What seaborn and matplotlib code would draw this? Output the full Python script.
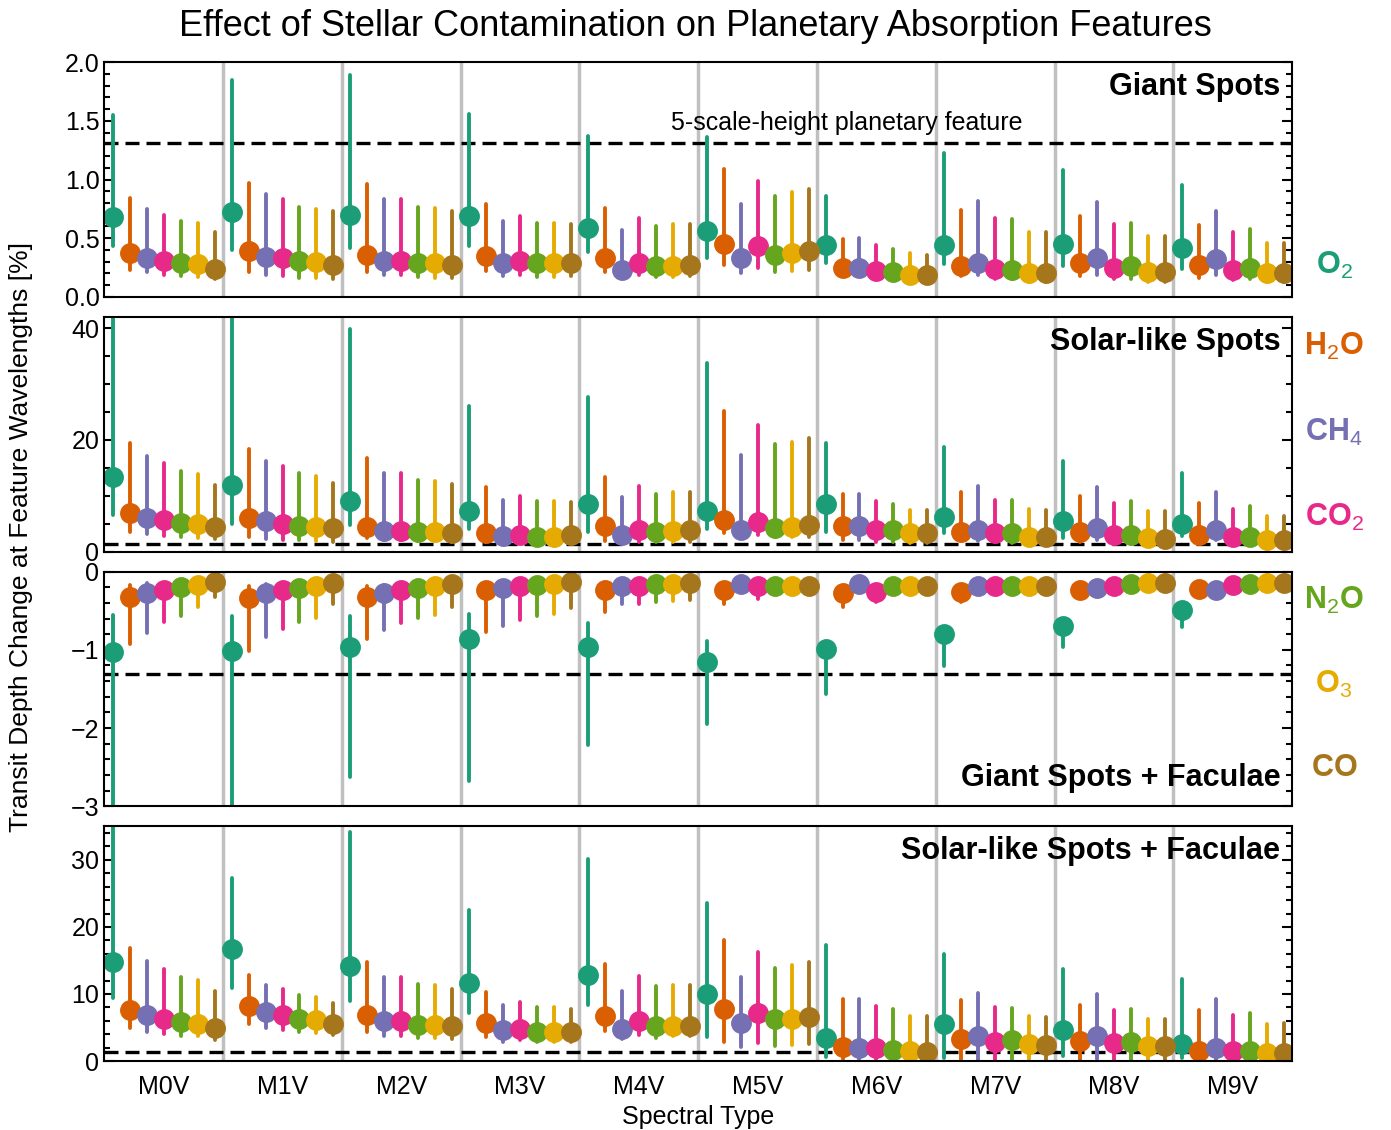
import numpy as np
import pandas as pd
import matplotlib
matplotlib.use("Agg")
import matplotlib.pyplot as plt
from matplotlib.ticker import AutoMinorLocator
import seaborn as sns

# Spectral types and molecules
spectral_types = ['M0V', 'M1V', 'M2V', 'M3V', 'M4V', 'M5V', 'M6V', 'M7V', 'M8V', 'M9V']
molecules = ['O2', 'H2O', 'CH4', 'CO2', 'N2O', 'O3', 'CO']
molecule_labels = [r'$\mathbf{O}_\mathrm{2}$', r'$\mathbf{H}_\mathrm{2}\mathbf{O}$',
                   r'$\mathbf{CH}_\mathrm{4}$', r'$\mathbf{CO}_\mathrm{2}$',
                   r'$\mathbf{N}_\mathrm{2}\mathbf{O}$', r'$\mathbf{O}_\mathrm{3}$',
                   r'$\mathbf{CO}$']
colors = ['#1b9e77', '#d95f02', '#7570b3', '#e7298a', '#66a61e', '#e6ab02', '#a6761d']

panel_titles = ['Giant Spots', 'Solar-like Spots', 'Giant Spots + Faculae', 'Solar-like Spots + Faculae']
feature_depth = 1.31  # 5 scale heights

# --- Giant Spots (rows: spectral type, columns: molecule) ---
giant_mid = [
    [0.68, 0.37, 0.33, 0.31, 0.29, 0.28, 0.24],
    [0.72, 0.39, 0.34, 0.33, 0.31, 0.30, 0.27],
    [0.70, 0.36, 0.31, 0.31, 0.29, 0.29, 0.27],
    [0.69, 0.35, 0.29, 0.31, 0.29, 0.29, 0.29],
    [0.59, 0.33, 0.23, 0.29, 0.26, 0.26, 0.27],
    [0.56, 0.45, 0.33, 0.43, 0.36, 0.37, 0.39],
    [0.44, 0.25, 0.25, 0.22, 0.21, 0.19, 0.19],
    [0.44, 0.26, 0.29, 0.24, 0.23, 0.20, 0.20],
    [0.45, 0.29, 0.33, 0.25, 0.26, 0.21, 0.21],
    [0.42, 0.27, 0.32, 0.23, 0.25, 0.20, 0.20],
]
giant_lo = [
    [0.43, 0.23, 0.21, 0.19, 0.18, 0.17, 0.15],
    [0.40, 0.21, 0.19, 0.18, 0.16, 0.16, 0.15],
    [0.42, 0.21, 0.19, 0.19, 0.17, 0.16, 0.16],
    [0.43, 0.22, 0.18, 0.19, 0.17, 0.17, 0.18],
    [0.38, 0.21, 0.16, 0.19, 0.17, 0.17, 0.18],
    [0.33, 0.27, 0.20, 0.25, 0.21, 0.22, 0.23],
    [0.29, 0.18, 0.18, 0.15, 0.14, 0.12, 0.12],
    [0.28, 0.18, 0.19, 0.15, 0.15, 0.13, 0.13],
    [0.26, 0.18, 0.19, 0.15, 0.15, 0.13, 0.13],
    [0.24, 0.16, 0.19, 0.14, 0.15, 0.13, 0.13],
]
giant_hi = [
    [1.55, 0.84, 0.75, 0.70, 0.65, 0.63, 0.55],
    [1.85, 0.97, 0.88, 0.83, 0.77, 0.75, 0.73],
    [1.89, 0.96, 0.83, 0.83, 0.77, 0.76, 0.73],
    [1.56, 0.79, 0.65, 0.69, 0.63, 0.63, 0.62],
    [1.37, 0.76, 0.57, 0.67, 0.60, 0.62, 0.62],
    [1.36, 1.09, 0.79, 0.99, 0.86, 0.89, 0.92],
    [0.86, 0.49, 0.50, 0.44, 0.41, 0.37, 0.36],
    [1.23, 0.74, 0.82, 0.67, 0.66, 0.55, 0.55],
    [1.08, 0.69, 0.81, 0.62, 0.63, 0.52, 0.52],
    [0.95, 0.61, 0.73, 0.55, 0.58, 0.46, 0.46],
]

# --- Solar-like Spots ---
solar_mid = [
    [13.4, 6.9, 6.1, 5.7, 5.2, 5.0, 4.4],
    [11.9, 6.0, 5.4, 5.0, 4.6, 4.4, 4.2],
    [9.0, 4.4, 3.7, 3.7, 3.5, 3.5, 3.4],
    [7.2, 3.4, 2.8, 3.0, 2.7, 2.7, 2.9],
    [8.5, 4.5, 3.0, 3.9, 3.6, 3.7, 3.8],
    [7.2, 5.6, 3.9, 5.3, 4.3, 4.4, 4.7],
    [8.5, 4.5, 4.5, 3.9, 3.8, 3.3, 3.3],
    [6.2, 3.5, 3.9, 3.3, 3.3, 2.7, 2.6],
    [5.4, 3.5, 4.2, 3.0, 3.0, 2.4, 2.3],
    [5.0, 3.0, 3.9, 2.6, 2.7, 2.1, 2.1],
]
solar_lo = [
    [6.6, 3.5, 3.1, 2.8, 2.6, 2.5, 2.2],
    [5.0, 2.6, 2.2, 2.1, 2.0, 1.9, 1.8],
    [4.8, 2.4, 2.1, 2.1, 1.9, 1.9, 1.8],
    [4.0, 1.8, 1.5, 1.6, 1.4, 1.4, 1.5],
    [3.6, 1.9, 1.8, 1.8, 1.8, 1.8, 1.8],
    [4.1, 3.3, 2.4, 3.0, 2.6, 2.6, 2.7],
    [3.6, 2.0, 2.0, 1.8, 1.7, 1.5, 1.5],
    [3.3, 1.9, 1.9, 1.7, 1.5, 1.2, 1.2],
    [2.4, 1.8, 2.1, 1.4, 1.4, 1.1, 1.1],
    [2.8, 1.5, 2.1, 1.2, 1.2, 0.9, 0.9],
]
solar_hi = [
    [48.0, 19.4, 17.1, 15.8, 14.4, 13.8, 12.0],
    [45.0, 18.4, 16.2, 15.3, 14.0, 13.5, 12.2],
    [39.8, 16.8, 14.1, 14.1, 12.9, 12.7, 12.1],
    [26.0, 11.6, 9.3, 9.9, 9.0, 9.0, 8.8],
    [27.7, 13.4, 9.7, 11.7, 10.3, 10.6, 10.6],
    [33.8, 25.2, 17.3, 22.6, 19.2, 19.6, 20.4],
    [19.5, 10.4, 10.4, 9.1, 8.5, 7.4, 7.4],
    [18.8, 10.6, 11.8, 9.3, 9.2, 7.6, 7.5],
    [16.2, 9.9, 11.6, 8.7, 9.0, 7.2, 7.2],
    [14.1, 8.7, 10.6, 7.7, 8.1, 6.3, 6.4],
]

# --- Giant Spots + Faculae ---
giantfac_mid = [
    [-1.03, -0.32, -0.28, -0.23, -0.20, -0.17, -0.13],
    [-1.02, -0.34, -0.27, -0.24, -0.21, -0.19, -0.14],
    [-0.97, -0.32, -0.27, -0.24, -0.21, -0.19, -0.16],
    [-0.86, -0.24, -0.21, -0.19, -0.17, -0.16, -0.13],
    [-0.97, -0.23, -0.18, -0.18, -0.16, -0.16, -0.14],
    [-1.16, -0.24, -0.16, -0.19, -0.18, -0.18, -0.18],
    [-0.99, -0.27, -0.16, -0.26, -0.19, -0.19, -0.19],
    [-0.80, -0.26, -0.18, -0.19, -0.18, -0.18, -0.18],
    [-0.69, -0.24, -0.21, -0.19, -0.16, -0.15, -0.15],
    [-0.49, -0.22, -0.24, -0.17, -0.16, -0.14, -0.14],
]
giantfac_lo = [
    [-3.30, -0.93, -0.79, -0.64, -0.57, -0.45, -0.32],
    [-3.20, -1.01, -0.84, -0.74, -0.65, -0.59, -0.42],
    [-2.63, -0.86, -0.75, -0.66, -0.59, -0.56, -0.45],
    [-2.67, -0.77, -0.69, -0.62, -0.57, -0.54, -0.47],
    [-2.21, -0.52, -0.42, -0.42, -0.39, -0.38, -0.36],
    [-1.95, -0.42, -0.20, -0.35, -0.22, -0.22, -0.22],
    [-1.56, -0.45, -0.20, -0.39, -0.23, -0.23, -0.23],
    [-1.21, -0.39, -0.22, -0.23, -0.22, -0.22, -0.22],
    [-0.96, -0.28, -0.25, -0.23, -0.20, -0.19, -0.19],
    [-0.71, -0.26, -0.28, -0.21, -0.20, -0.18, -0.18],
]
giantfac_hi = [
    [-0.56, -0.17, -0.15, -0.17, -0.16, -0.14, -0.10],
    [-0.57, -0.18, -0.16, -0.18, -0.16, -0.15, -0.10],
    [-0.57, -0.18, -0.17, -0.17, -0.16, -0.15, -0.12],
    [-0.54, -0.18, -0.16, -0.15, -0.14, -0.13, -0.10],
    [-0.66, -0.18, -0.15, -0.15, -0.13, -0.13, -0.11],
    [-0.89, -0.20, -0.13, -0.16, -0.15, -0.15, -0.15],
    [-0.90, -0.22, -0.13, -0.22, -0.16, -0.16, -0.16],
    [-0.75, -0.22, -0.15, -0.16, -0.15, -0.15, -0.15],
    [-0.65, -0.21, -0.18, -0.16, -0.13, -0.12, -0.12],
    [-0.45, -0.19, -0.21, -0.14, -0.13, -0.11, -0.11],
]

# --- Solar-like Spots + Faculae ---
solarfac_mid = [
    [14.8, 7.6, 6.8, 6.3, 5.8, 5.6, 4.9],
    [16.7, 8.2, 7.3, 6.9, 6.3, 6.1, 5.6],
    [14.2, 6.8, 5.9, 5.9, 5.4, 5.4, 5.2],
    [11.7, 5.7, 4.6, 4.8, 4.4, 4.4, 4.4],
    [12.8, 6.7, 4.8, 5.9, 5.2, 5.3, 5.3],
    [10.0, 7.8, 5.7, 7.2, 6.2, 6.3, 6.6],
    [3.5, 2.1, 2.0, 1.9, 1.7, 1.5, 1.4],
    [5.6, 3.3, 3.7, 2.9, 3.1, 2.5, 2.4],
    [4.7, 3.0, 3.7, 2.7, 2.8, 2.3, 2.3],
    [2.5, 1.5, 2.0, 1.5, 1.5, 1.2, 1.2],
]
solarfac_lo = [
    [9.4, 4.9, 4.4, 4.1, 3.8, 3.7, 3.2],
    [10.9, 5.6, 4.9, 4.7, 4.3, 4.2, 3.9],
    [8.9, 4.4, 3.8, 3.8, 3.5, 3.4, 3.3],
    [7.2, 3.6, 2.9, 3.1, 2.8, 2.8, 2.8],
    [8.4, 4.5, 3.3, 3.9, 3.5, 3.7, 3.8],
    [3.6, 2.9, 2.1, 2.7, 2.3, 2.4, 2.5],
    [0.6, 0.3, 0.3, 0.3, 0.3, 0.3, 0.3],
    [0.4, 0.2, 0.2, 0.2, 0.2, 0.2, 0.2],
    [0.7, 0.2, 0.3, 0.2, 0.2, 0.2, 0.2],
    [0.4, 0.2, 0.2, 0.2, 0.2, 0.2, 0.2],
]
solarfac_hi = [
    [38.0, 16.9, 14.9, 13.8, 12.6, 12.1, 10.4],
    [27.3, 12.8, 11.3, 10.7, 9.8, 9.5, 8.7],
    [34.2, 14.8, 12.6, 12.6, 11.5, 11.3, 10.8],
    [22.5, 10.3, 8.3, 8.8, 8.1, 8.1, 7.8],
    [30.2, 14.4, 10.5, 12.7, 11.2, 11.4, 11.4],
    [23.6, 18.0, 12.6, 16.2, 13.9, 14.3, 14.8],
    [17.3, 9.3, 9.3, 8.2, 7.7, 6.7, 6.7],
    [15.9, 9.1, 10.1, 8.1, 7.9, 6.7, 6.5],
    [13.8, 8.4, 10.0, 7.6, 7.8, 6.2, 6.2],
    [12.3, 7.6, 9.2, 6.8, 7.1, 5.6, 5.7],
]

panel_data = [
    (giant_mid, giant_lo, giant_hi),
    (solar_mid, solar_lo, solar_hi),
    (giantfac_mid, giantfac_lo, giantfac_hi),
    (solarfac_mid, solarfac_lo, solarfac_hi),
]
ylims = [(0, 2.0), (0, 42), (-3, 0), (0, 35)]
yticks = [[0.0, 0.5, 1.0, 1.5, 2.0], [0, 20, 40], [-3, -2, -1, 0], [0, 10, 20, 30]]
line_levels = [feature_depth, feature_depth, -feature_depth, feature_depth]


def to_long(mid, lo, hi):
    """Three rows per point: the median gives the marker, the full range the bar."""
    rows = []
    for i, st in enumerate(spectral_types):
        for j, mol in enumerate(molecules):
            for v in (lo[i][j], mid[i][j], hi[i][j]):
                rows.append({'type': st, 'molecule': mol, 'value': v})
    return pd.DataFrame(rows)


sns.set_style('ticks')
plt.rcParams['font.family'] = ['Liberation Sans', 'DejaVu Sans']
plt.rcParams['mathtext.fontset'] = 'custom'
plt.rcParams['mathtext.rm'] = 'Liberation Sans'
plt.rcParams['mathtext.it'] = 'Liberation Sans:italic'
plt.rcParams['mathtext.bf'] = 'Liberation Sans:bold'
for key in ['text.color', 'axes.labelcolor', 'xtick.color', 'ytick.color', 'axes.edgecolor']:
    plt.rcParams[key] = 'black'

fig, axes = plt.subplots(4, 1, figsize=(13.91, 11.30), dpi=100, sharex=True)
fig.subplots_adjust(left=0.075, right=0.929, top=0.945, bottom=0.061, hspace=0.085)

for k, ax in enumerate(axes):
    mid, lo, hi = panel_data[k]
    df = to_long(mid, lo, hi)
    for b in range(1, len(spectral_types)):
        ax.axvline(b - 0.5, color='#c0c0c0', lw=2.5, zorder=0)
    ax.axhline(line_levels[k], color='black', ls='--', lw=2.4, dashes=(4.2, 2.1), zorder=1)
    sns.pointplot(data=df, x='type', y='value', hue='molecule', order=spectral_types,
                  hue_order=molecules, palette=colors, estimator='median',
                  errorbar=('pi', 100), dodge=6 / 7, linestyle='none', marker='o',
                  markersize=13, err_kws={'linewidth': 2.8}, legend=False, ax=ax)
    ax.set_xlim(-0.5, len(spectral_types) - 0.5)
    ax.set_ylim(*ylims[k])
    ax.set_yticks(yticks[k])
    if k == 0:
        ax.set_yticklabels(['0.0', '0.5', '1.0', '1.5', '2.0'])
    ax.yaxis.set_minor_locator(AutoMinorLocator())
    ax.tick_params(axis='y', which='both', direction='in', left=True, right=True, width=1.5)
    ax.tick_params(axis='y', which='major', length=7, labelsize=18)
    ax.tick_params(axis='y', which='minor', length=4)
    ax.tick_params(axis='x', length=0, labelsize=18, pad=10)
    for sp in ax.spines.values():
        sp.set_visible(True)
        sp.set_linewidth(1.5)
    ax.set_ylabel('')
    ax.set_xlabel('')
    if k == 2:
        ax.text(0.99, 0.12, panel_titles[k], transform=ax.transAxes, ha='right', va='center',
                fontsize=22, fontweight='bold')
    else:
        ax.text(0.99, 0.893, panel_titles[k], transform=ax.transAxes, ha='right', va='center',
                fontsize=22, fontweight='bold')

axes[0].text(5.75, feature_depth + 0.07, '5-scale-height planetary feature',
             ha='center', va='bottom', fontsize=18)

axes[-1].set_xlabel('Spectral Type', fontsize=18, labelpad=4)

fig.suptitle('Effect of Stellar Contamination on Planetary Absorption Features', fontsize=26, y=0.992)
fig.text(0.015, 0.525, 'Transit Depth Change at Feature Wavelengths [%]', rotation=90,
         ha='center', va='center', fontsize=19)

label_y = [0.7655, 0.693, 0.617, 0.542, 0.469, 0.394, 0.320]
for lab, c, yy in zip(molecule_labels, colors, label_y):
    fig.text(0.959, yy, lab, color=c, ha='center', va='center', fontsize=22)

fig.savefig('out.png', dpi=100)
